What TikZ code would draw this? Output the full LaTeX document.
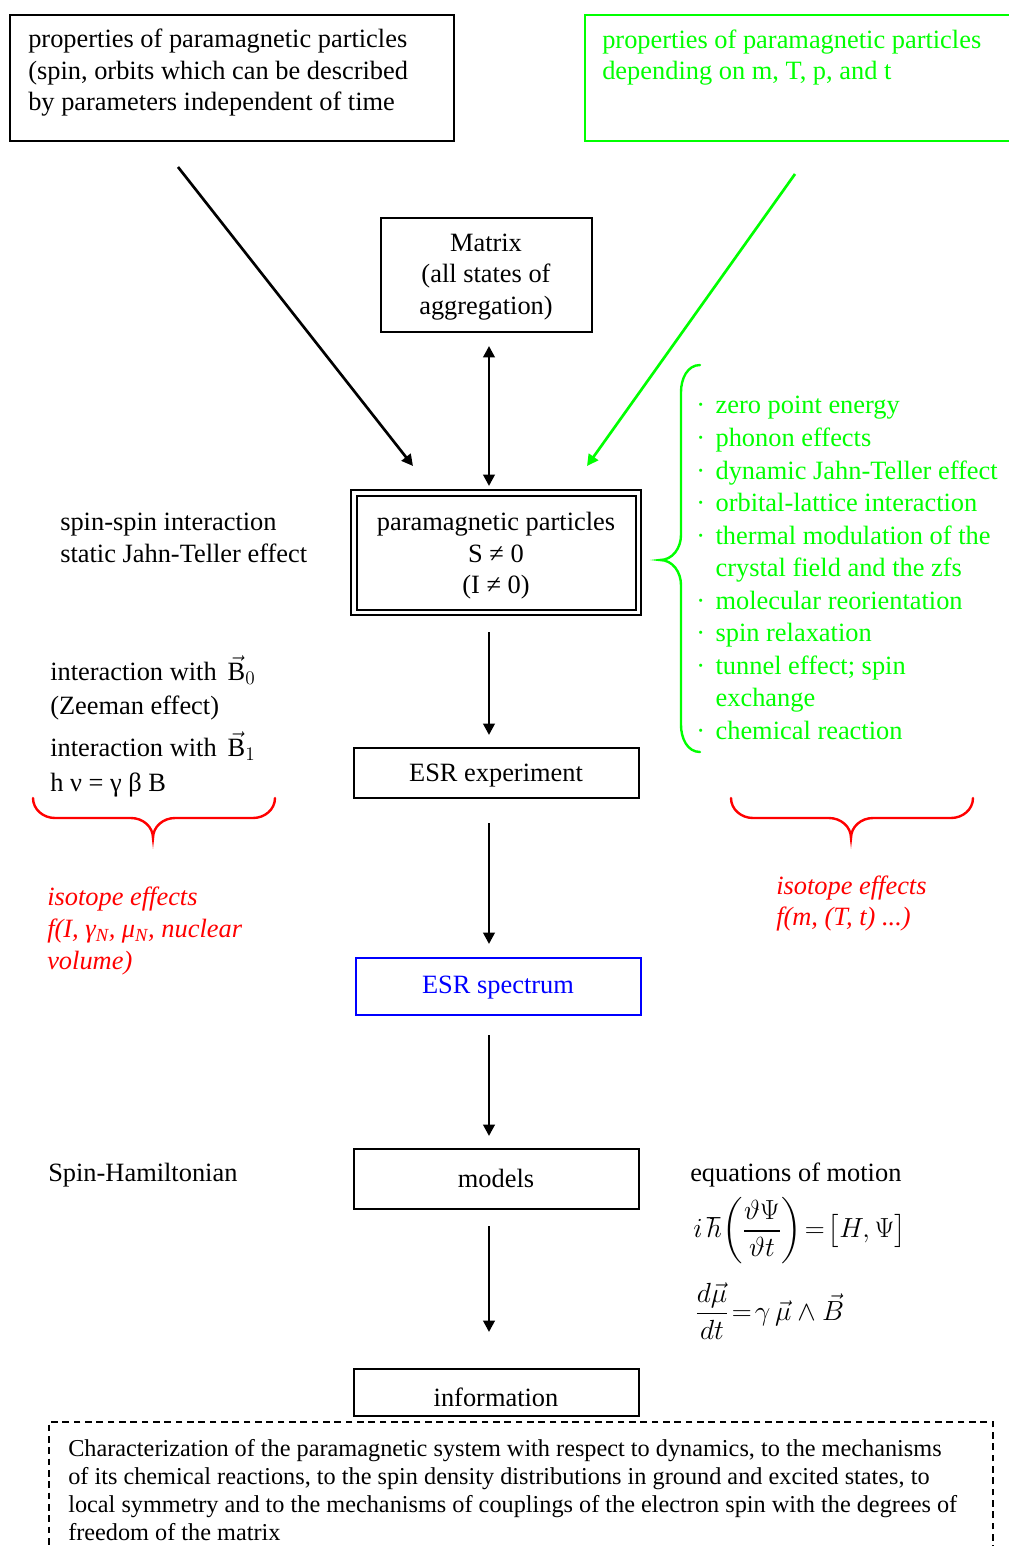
\documentclass[tikz,border=0pt]{standalone}
\usepackage{fontspec}
\setmainfont{Liberation Serif}
\usepackage{amsmath}
\usetikzlibrary{arrows.meta,fit}
\definecolor{grn}{RGB}{0,255,0}
\definecolor{rd}{RGB}{255,0,0}
\definecolor{blu}{RGB}{0,0,255}
\begin{document}
\begin{tikzpicture}[x=0.75pt,y=-0.75pt,
  every node/.style={font=\fontsize{19.8}{23.6}\selectfont, inner sep=0pt},
  box/.style={draw, line width=1.1pt, inner sep=0pt},
  txt/.style={anchor=west, align=left},
  ctxt/.style={align=center},
  arr/.style={line width=2pt, -{Triangle[length=8.5pt,width=8.5pt]}},
  darr/.style={line width=2pt, {Triangle[length=8.5pt,width=8.5pt]}-{Triangle[length=8.5pt,width=8.5pt]}},
  brace/.style={line width=1.8pt, line cap=round}]
\useasboundingbox (0,0) rectangle (1008,1546);
% top boxes
\node[box, fit={(10,15)(454,141)}] (b1) {};
\node[txt] (t1) at (28,73) {properties of paramagnetic particles\\(spin, orbits which can be described\\by parameters independent of time};
\node[box, draw=grn, fit={(585,15)(1012,141)}] (b2) {};
\node[txt, text=grn] (t2) at (602,57.5) {properties of paramagnetic particles\\depending on m, T, p, and t};
% matrix
\node[box, fit={(381,218)(592,332)}] (mat) {};
\node[ctxt] (matt) at (486,277) {Matrix\\(all states of\\aggregation)};
% paramagnetic particles double box
\node[box, line width=1.3pt, fit={(351,490)(641,615)}] (ppo) {};
\node[box, line width=1.3pt, fit={(357,496)(636,610)}] (pp) {};
\node[ctxt] (ppt) at (496,556) {paramagnetic particles\\S ≠ 0\\(I ≠ 0)};
% lower boxes
\node[box, fit={(354,748)(639,798)}] (esre) {};
\node (esret) at (496,776) {ESR experiment};
\node[box, draw=blu, fit={(356,958)(641,1015)}] (esrs) {};
\node[text=blu] (esrst) at (498,988) {ESR spectrum};
\node[box, fit={(354,1149)(639,1209)}] (mod) {};
\node (modt) at (496,1178) {models};
\node[box, fit={(354,1369)(639,1416)}] (inf) {};
\node (inft) at (496,1397) {information};
\node[box, dashed, dash pattern=on 5pt off 3.5pt, fit={(49,1422)(993,1560)}] (dash) {};
\node[txt, font=\fontsize{18.2}{21}\selectfont] (tdash) at (68,1490) {Characterization of the paramagnetic system with respect to dynamics, to the mechanisms\\of its chemical reactions, to the spin density distributions in ground and excited states, to\\local symmetry and to the mechanisms of couplings of the electron spin with the degrees of\\freedom of the matrix};
% left texts
\node[txt] (ss) at (60,538) {spin-spin interaction\\static Jahn-Teller effect};
\node[txt] (iw0) at (50,670) {interaction with \,$\vec{\text{B}}_0$};
\node[txt] (zee) at (50,708) {(Zeeman effect)};
\node[txt] (iw1) at (50,746) {interaction with \,$\vec{\text{B}}_1$};
\node[txt] (hnu) at (50,785) {h ν = γ β B};
\node[txt, text=rd, font=\fontsize{19.8}{23.8}\selectfont\itshape] (isoL) at (47,931) {isotope effects\\f(I, γ\textsubscript{N}, μ\textsubscript{N}, nuclear\\volume)};
\node[txt, text=rd, font=\fontsize{19.8}{23.6}\selectfont\itshape] (isoR) at (776,903.5) {isotope effects\\f(m, (T, t) ...)};
\node[txt] (sh) at (48,1175) {Spin-Hamiltonian};
\node[txt] (eqm) at (690,1175) {equations of motion};
\node[txt] (eq1) at (693,1231) {$i\,\hbar\biggl(\dfrac{\vartheta\Psi}{\vartheta t}\biggr)\!=\!\bigl[H,\Psi\bigr]$};
\node[txt] (eq2) at (695,1311) {$\dfrac{d\vec{\mu}}{dt}\!=\!\gamma\,\vec{\mu}\wedge\vec{B}$};
% green list
\node[txt, text=grn, font=\fontsize{19.8}{24.4}\selectfont] (glist) at (696,568) {%
\makebox[14.5pt][l]{·}zero point energy\\
\makebox[14.5pt][l]{·}phonon effects\\
\makebox[14.5pt][l]{·}dynamic Jahn-Teller effect\\
\makebox[14.5pt][l]{·}orbital-lattice interaction\\
\makebox[14.5pt][l]{·}thermal modulation of the\\
\hspace*{14.5pt}crystal field and the zfs\\
\makebox[14.5pt][l]{·}molecular reorientation\\
\makebox[14.5pt][l]{·}spin relaxation\\
\makebox[14.5pt][l]{·}tunnel effect; spin\\
\hspace*{14.5pt}exchange\\
\makebox[14.5pt][l]{·}chemical reaction};
% braces
\draw[brace, grn] (700,365) to[out=180,in=90] (681,392) -- (681,535) to[out=-90,in=0] (660,560)
  to[out=0,in=90] (681,585) -- (681,725) to[out=-90,in=180] (700,752);
\draw[brace, rd] (33,798) to[out=-90,in=180] (55,818) -- (131,818) to[out=0,in=90] (153,838)
  to[out=90,in=180] (175,818) -- (253,818) to[out=0,in=-90] (275,798);
\draw[brace, rd] (731,798) to[out=-90,in=180] (753,818) -- (829,818) to[out=0,in=90] (851,838)
  to[out=90,in=180] (873,818) -- (951,818) to[out=0,in=-90] (973,798);
% arrow coordinates
\coordinate (d1s) at (178,167); \coordinate (d1e) at (413,466);
\coordinate (d2s) at (795,174); \coordinate (d2e) at (587,466);
\coordinate (m1) at (489,346); \coordinate (m2) at (489,486);
\coordinate (a1s) at (489,632); \coordinate (a1e) at (489,735);
\coordinate (a2s) at (489,823); \coordinate (a2e) at (489,944);
\coordinate (a3s) at (489,1035); \coordinate (a3e) at (489,1136);
\coordinate (a4s) at (489,1226); \coordinate (a4e) at (489,1332);
\draw[arr] (d1s) -- (d1e);
\draw[arr, grn] (d2s) -- (d2e);
\draw[darr] (m1) -- (m2);
\draw[arr] (a1s) -- (a1e);
\draw[arr] (a2s) -- (a2e);
\draw[arr] (a3s) -- (a3e);
\draw[arr] (a4s) -- (a4e);
\end{tikzpicture}
\end{document}
